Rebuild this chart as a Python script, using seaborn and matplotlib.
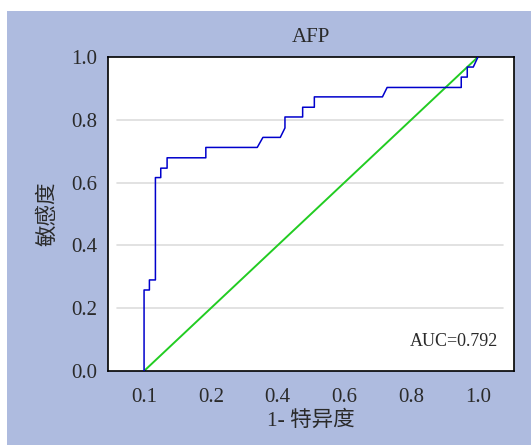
import pandas as pd
import seaborn as sns
import matplotlib.pyplot as plt
from matplotlib.patches import Rectangle

# ROC 곡선 꼭짓점
fpr = [0, 0, 0.016, 0.016, 0.034, 0.034, 0.05, 0.05, 0.069, 0.069, 0.185, 0.185,
       0.339, 0.356, 0.408, 0.422, 0.422, 0.475, 0.475, 0.51, 0.51, 0.714, 0.728,
       0.95, 0.95, 0.968, 0.968, 0.986, 1.0]
tpr = [0, 0.258, 0.258, 0.29, 0.29, 0.616, 0.616, 0.646, 0.646, 0.679, 0.679, 0.712,
       0.712, 0.744, 0.744, 0.774, 0.809, 0.809, 0.84, 0.84, 0.873, 0.873, 0.903,
       0.903, 0.936, 0.936, 0.968, 0.968, 1.0]
ref_x = [0, 1]
ref_y = [0, 1]

xticks = [0, 0.2, 0.4, 0.6, 0.8, 1.0]
xtick_labels = ["0.1", "0.2", "0.4", "0.6", "0.8", "1.0"]
yticks = [0, 0.2, 0.4, 0.6, 0.8, 1.0]
ytick_labels = ["0.0", "0.2", "0.4", "0.6", "0.8", "1.0"]
auc_text = "AUC=0.792"

sns.set_style("white")
plt.rcParams['font.family'] = ['Liberation Serif', 'Noto Sans CJK SC']
plt.rcParams['font.size'] = 13

bg = "#aebbdf"
txt = "#2a2a2a"
fig = plt.figure(figsize=(5.31, 4.45), dpi=100)
fig.patch.set_facecolor("white")
fig.patches.append(Rectangle((7 / 531, 0), 1, (445 - 11) / 445, transform=fig.transFigure,
                             facecolor=bg, edgecolor="none", zorder=-1))

ax = fig.add_axes([108 / 531, 74 / 445, 406 / 531, 314 / 445])
ax.set_facecolor("white")

df = pd.DataFrame({"fpr": fpr, "tpr": tpr})
df_ref = pd.DataFrame({"x": ref_x, "y": ref_y})

# 눈금선
for y in yticks[1:-1]:
    ax.axhline(y, xmin=0.022, xmax=0.973, color="#dddddd", lw=1.2, zorder=0)

sns.lineplot(data=df_ref, x="x", y="y", color="#22cc22", lw=1.4, ax=ax, zorder=2)
sns.lineplot(data=df, x="fpr", y="tpr", sort=False, estimator=None, color="#0000cc",
             lw=1.1, ax=ax, zorder=3)

ax.set_xlim(-0.108, 1.108)
ax.set_ylim(0, 1)
ax.set_xticks(xticks)
ax.set_xticklabels(xtick_labels)
ax.set_yticks(yticks)
ax.set_yticklabels(ytick_labels)
ax.tick_params(axis="both", direction="out", length=5, width=1, color="black",
               labelsize=15, labelcolor=txt, pad=3)
ax.tick_params(axis="x", pad=7)
for s in ax.spines.values():
    s.set_color("black")
    s.set_linewidth(1.2)

ax.set_title("AFP", fontsize=15, color=txt, pad=11)
ax.set_xlabel("1- 特异度", fontsize=15.5, color=txt, labelpad=3)
ax.set_ylabel("敏感度", fontsize=15.5, color=txt, labelpad=9)

ax.text(0.96, 0.093, auc_text, transform=ax.transAxes, ha="right", va="center",
        fontsize=13, color=txt)

fig.savefig("out.png", dpi=100, facecolor=fig.get_facecolor())
